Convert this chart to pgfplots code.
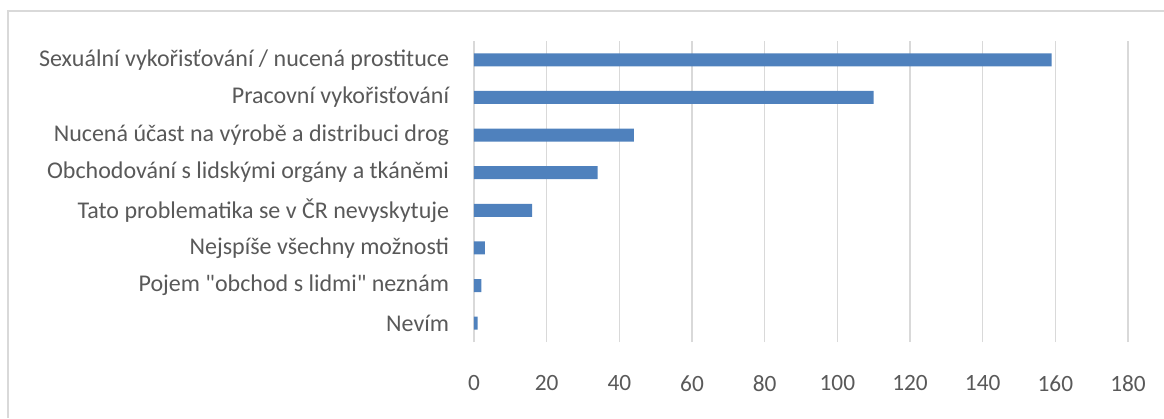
\documentclass[border=0pt]{standalone}
\usepackage{pgfplots}
\pgfplotsset{compat=1.18}
\usepackage{fontspec}
\setmainfont{Carlito}
\newfontfamily\qfont{Carlito}
\definecolor{barblue}{HTML}{4F81BD}
\definecolor{gridgray}{HTML}{D9D9D9}
\definecolor{txtgray}{HTML}{595959}
\begin{document}
\begin{tikzpicture}
\path[use as bounding box] (0pt,0pt) rectangle (873pt,313.5pt);
\draw[gridgray,line width=1.5pt] (6pt,0pt) -- (6pt,305.25pt) -- (873pt,305.25pt);
\begin{axis}[
  at={(355.5pt,57pt)}, anchor=south west,
  scale only axis,
  width=490.5pt, height=225.75pt,
  xbar, bar width=9.75pt,
  xmin=0, xmax=180,
  ymin=-0.5, ymax=7.5,
  xtick={0,20,...,180},
  ytick={0,...,7},
  yticklabels={Nevím,{Pojem {\qfont"}obchod s lidmi{\qfont"} neznám},Nejspíše všechny možnosti,Tato problematika se v ČR nevyskytuje,Obchodování s lidskými orgány a tkáněmi,Nucená účast na výrobě a distribuci drog,Pracovní vykořisťování,Sexuální vykořisťování / nucená prostituce},
  xmajorgrids,
  major grid style={gridgray,line width=1.1pt},
  axis line style={draw=none},
  tick style={draw=none},
  /pgf/number format/assume math mode=true,
  ticklabel style={font=\fontsize{18}{21}\selectfont, text=txtgray, inner sep=0pt},
  xticklabel style={anchor=center, yshift=-31pt, font=\fontsize{17.5}{21}\selectfont},
  yticklabel style={anchor=east, xshift=-14.25pt},
]
\addplot[fill=barblue, draw=none] coordinates {
(1,0) (2,1) (3,2) (16,3) (34,4) (44,5) (110,6) (159,7)
};
\end{axis}
\end{tikzpicture}
\end{document}
